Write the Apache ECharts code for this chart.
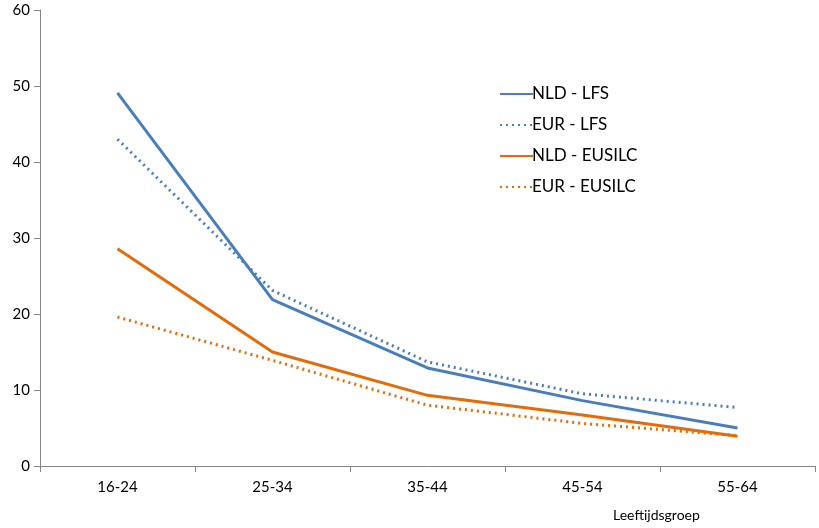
<!DOCTYPE html>
<html><head><meta charset="utf-8">
<script src="https://cdn.jsdelivr.net/npm/echarts@6/dist/echarts.min.js"></script>
<style>html,body{margin:0;padding:0;background:#fff}#c{width:819px;height:528px}</style>
</head><body><div id="c"></div>
<script>
const categories = ['16-24', '25-34', '35-44', '45-54', '55-64'];
const nldLfs = [49.1, 21.9, 12.9, 8.6, 5.0];
const eurLfs = [43.0, 23.1, 13.7, 9.5, 7.7];
const nldEusilc = [28.6, 15.0, 9.3, 6.7, 3.9];
const eurEusilc = [19.6, 13.9, 8.0, 5.6, 4.0];
const seriesNames = ['NLD - LFS', 'EUR - LFS', 'NLD - EUSILC', 'EUR - EUSILC'];
const yTicks = [0, 10, 20, 30, 40, 50, 60];
const xAxisTitle = 'Leeftijdsgroep';

const BLUE = '#4A7EBB', ORANGE = '#E36C0A';
const FONT = 'Lato, "Open Sans", sans-serif';
const chart = echarts.init(document.getElementById('c'), null, {renderer: 'canvas'});
function line(name, data, color, type) {
  return {
    name, type: 'line', data, symbol: 'none', smooth: false,
    lineStyle: {color, width: 3, type},
    itemStyle: {color},
    emphasis: {disabled: true}
  };
}
chart.setOption({
  animation: false,
  backgroundColor: '#fff',
  grid: {left: 40, right: 4, top: 10, bottom: 62, containLabel: false},
  legend: {
    orient: 'vertical', left: 494, top: 79,
    itemWidth: 33, itemHeight: 18, itemGap: 11,
    itemStyle: {opacity: 0},
    textStyle: {fontFamily: FONT, fontSize: 17, color: '#000', padding: [0, 0, 0, -6], lineHeight: 20},
    data: seriesNames
  },
  xAxis: {
    type: 'category', data: categories, boundaryGap: true,
    axisLine: {lineStyle: {color: '#868686', width: 1}},
    axisTick: {show: true, length: 6, interval: 0, lineStyle: {color: '#868686'}},
    axisLabel: {fontFamily: FONT, fontSize: 15, color: '#000', margin: 14}
  },
  yAxis: {
    type: 'value', min: yTicks[0], max: yTicks[yTicks.length - 1], interval: 10,
    axisLine: {show: true, lineStyle: {color: '#868686', width: 1}},
    axisTick: {show: true, length: 6, lineStyle: {color: '#868686'}},
    splitLine: {show: false},
    axisLabel: {fontFamily: FONT, fontSize: 15, color: '#000', margin: 10}
  },
  graphic: [{
    type: 'text', left: 613, top: 508,
    style: {text: xAxisTitle, font: '14px ' + FONT, fill: '#000'}
  }],
  series: [
    line(seriesNames[0], nldLfs, BLUE, 'solid'),
    line(seriesNames[1], eurLfs, BLUE, [2, 4]),
    line(seriesNames[2], nldEusilc, ORANGE, 'solid'),
    line(seriesNames[3], eurEusilc, ORANGE, [2, 4])
  ]
});
</script></body></html>
